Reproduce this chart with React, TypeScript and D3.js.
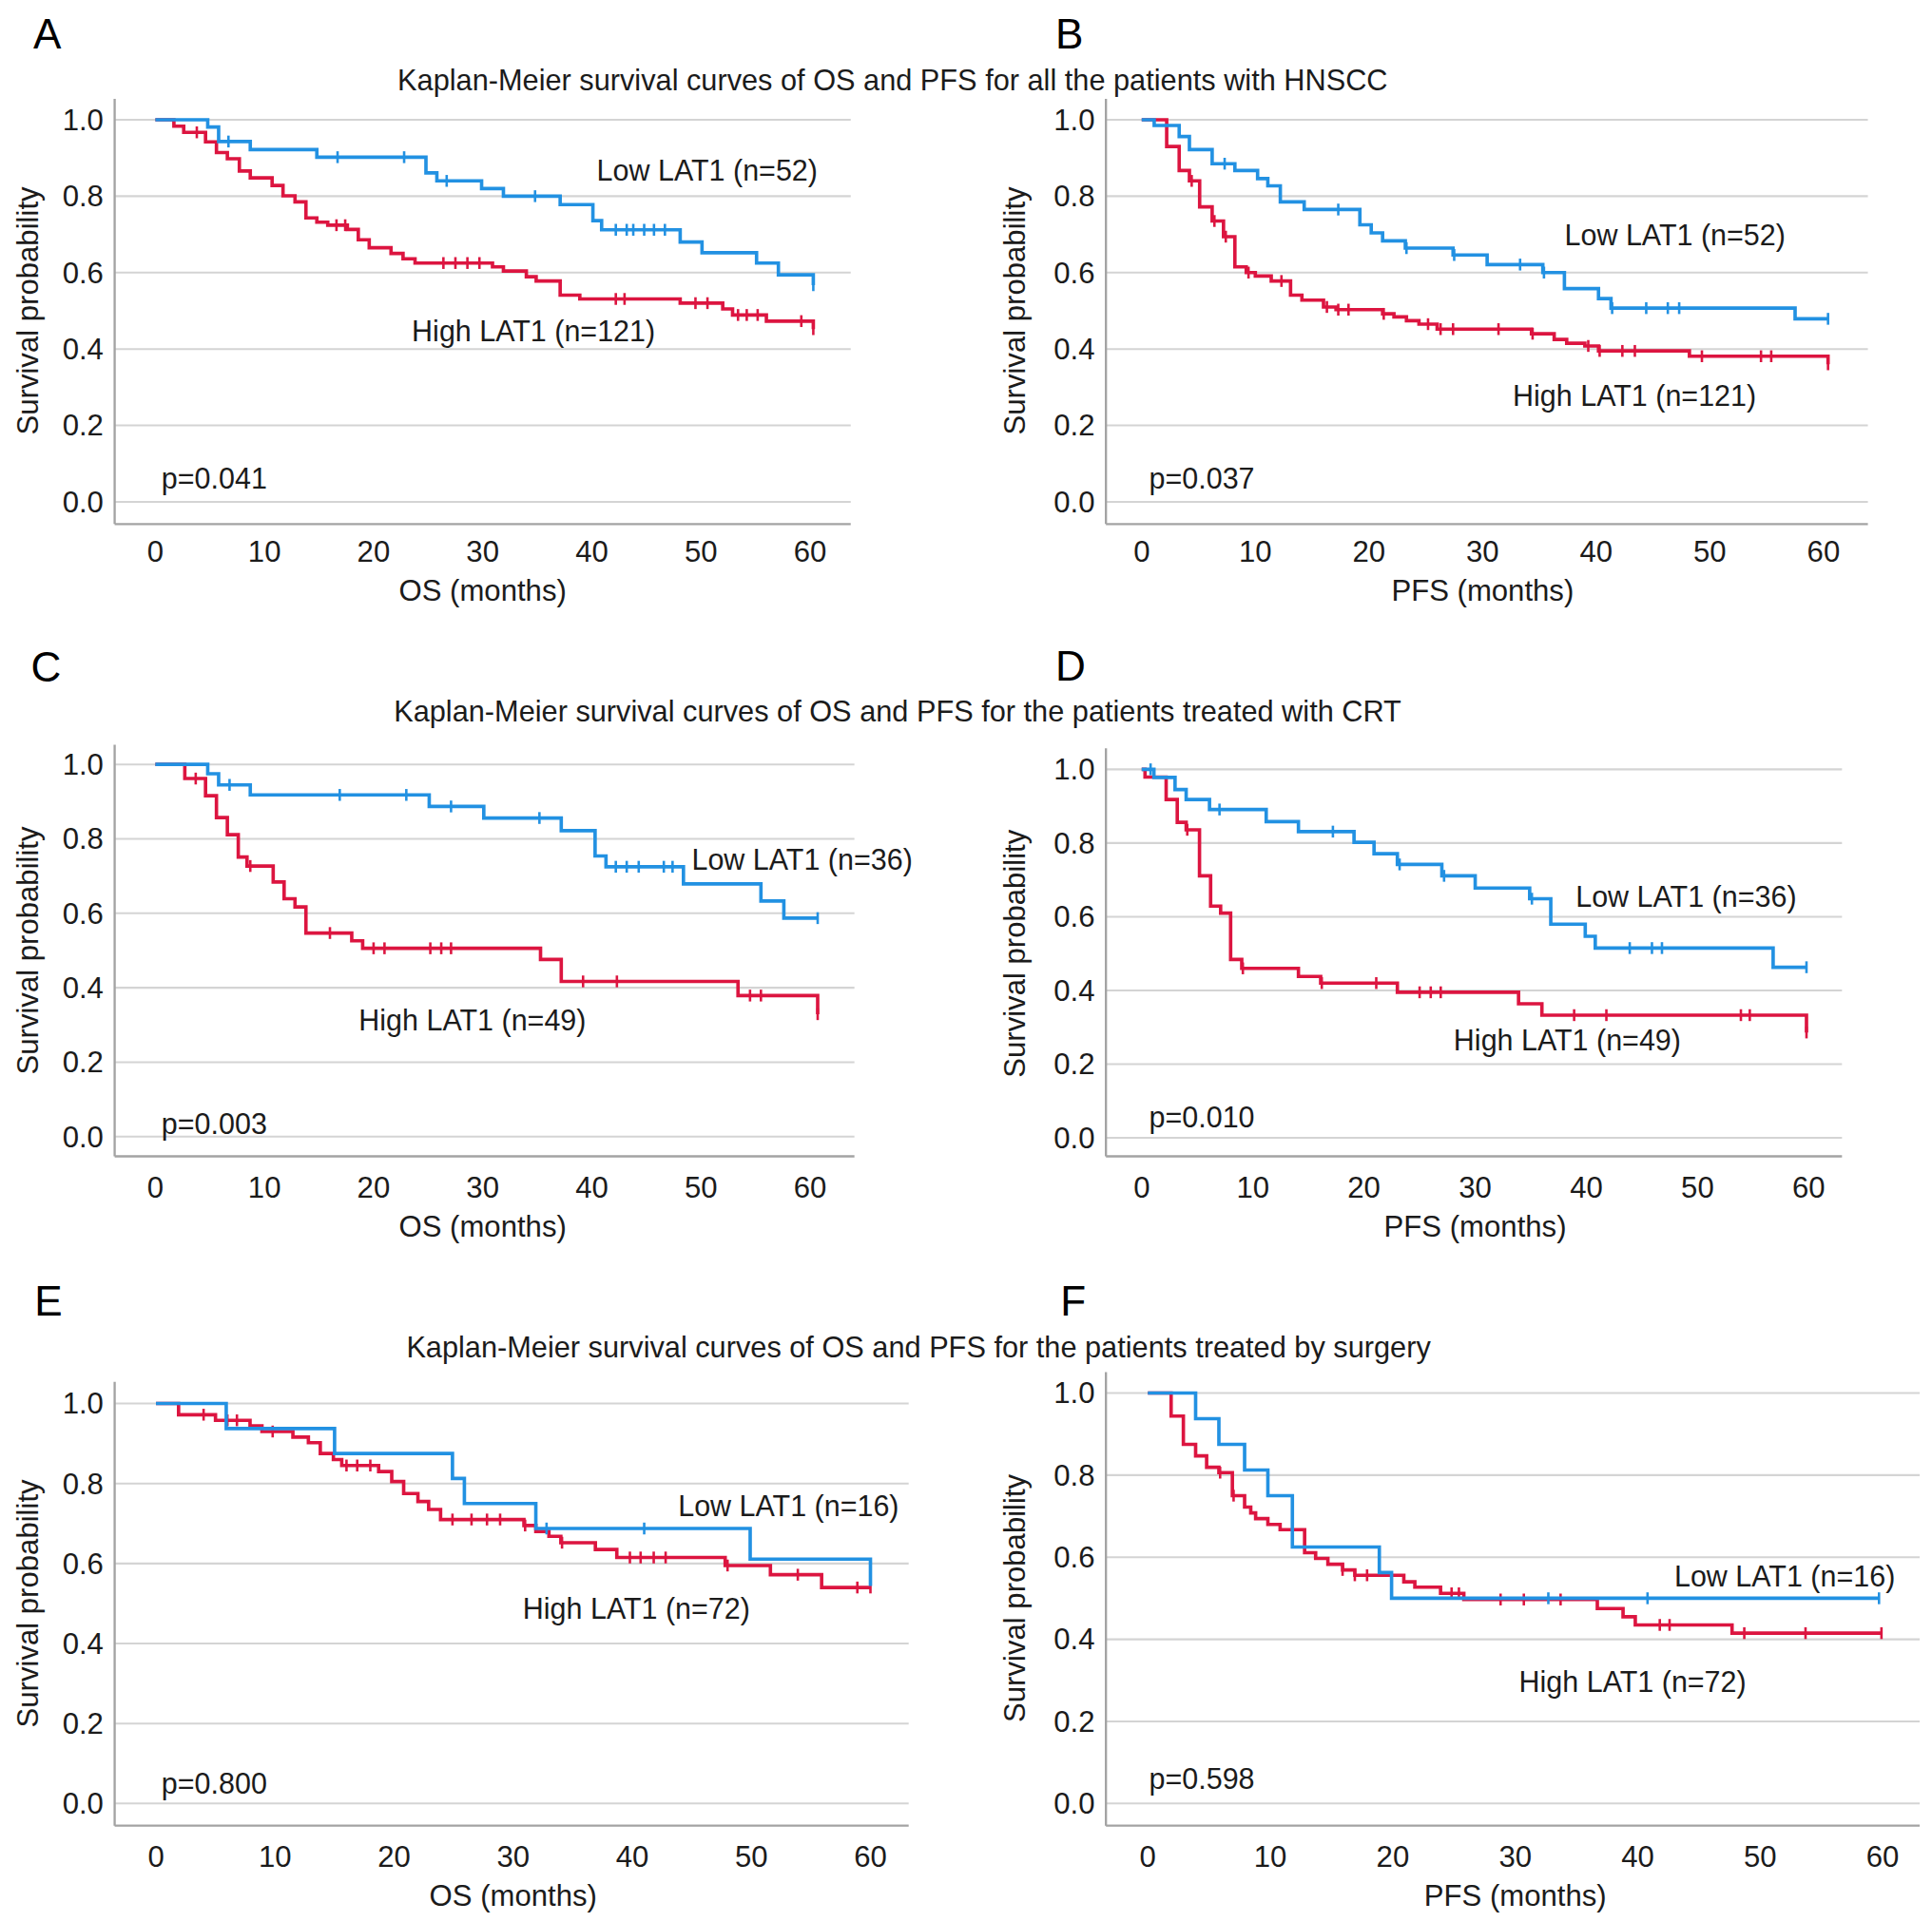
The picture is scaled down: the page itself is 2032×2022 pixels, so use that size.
import React, { useEffect } from 'react';
import * as d3 from 'd3';

type Step = [number, number];

// ---- data: [time (months), survival] steps ----

// A: OS, all patients
const aLow: Step[] = [[0, 1], [4.8, 0.981], [5.8, 0.943], [8.7, 0.922], [14.8, 0.902], [24.8, 0.861], [25.8, 0.84], [29.9, 0.82], [31.9, 0.8], [37.1, 0.778], [40.1, 0.736], [40.9, 0.712], [48.1, 0.68], [50.1, 0.652], [55.1, 0.625], [57.1, 0.594], [60.3, 0.567]];
const aLowCensor = [6.7, 16.7, 22.8, 26.7, 34.8, 42.2, 43.2, 43.8, 44.8, 45.7, 46.7, 60.3];
const aHigh: Step[] = [[0, 1], [1.7, 0.983], [2.6, 0.967], [4.6, 0.942], [5.6, 0.914], [6.6, 0.898], [7.7, 0.866], [8.7, 0.848], [10.7, 0.828], [11.7, 0.801], [12.8, 0.785], [13.8, 0.743], [14.8, 0.732], [15.8, 0.724], [17.6, 0.713], [18.6, 0.686], [19.6, 0.665], [21.6, 0.65], [22.7, 0.636], [23.8, 0.625], [30.9, 0.615], [31.9, 0.604], [34.0, 0.589], [34.9, 0.578], [37.1, 0.541], [38.9, 0.531], [48.1, 0.52], [52.0, 0.505], [52.9, 0.489], [56.0, 0.473], [60.3, 0.452]];
const aHighCensor = [3.8, 16.6, 17.4, 26.4, 27.5, 28.6, 29.7, 42.2, 43.0, 49.5, 50.6, 53.4, 54.2, 55.2, 59.2, 60.3];

// B: PFS, all patients
const bLow: Step[] = [[0, 1], [1.1, 0.985], [3.3, 0.956], [4.2, 0.922], [6.2, 0.885], [8.2, 0.867], [10.2, 0.846], [11.1, 0.827], [12.2, 0.785], [14.3, 0.765], [19.2, 0.725], [20.2, 0.704], [21.2, 0.683], [23.2, 0.664], [27.4, 0.646], [30.4, 0.621], [35.3, 0.6], [37.2, 0.558], [40.2, 0.532], [41.3, 0.507], [57.5, 0.479], [60.4, 0.479]];
const bLowCensor = [7.3, 17.3, 23.3, 27.5, 33.3, 35.4, 41.4, 44.4, 46.3, 47.3, 60.4];
const bHigh: Step[] = [[0, 1], [2.2, 0.93], [3.3, 0.867], [4.2, 0.84], [5.1, 0.772], [6.2, 0.735], [7.2, 0.694], [8.2, 0.615], [9.2, 0.6], [10.0, 0.591], [11.4, 0.578], [13.1, 0.541], [14.1, 0.528], [16.0, 0.51], [17.1, 0.503], [21.2, 0.492], [22.2, 0.484], [23.3, 0.474], [24.4, 0.465], [26.0, 0.452], [34.3, 0.44], [36.3, 0.425], [37.4, 0.415], [39.0, 0.408], [40.2, 0.395], [48.2, 0.381], [60.4, 0.36]];
const bHighCensor = [4.4, 6.4, 7.4, 9.4, 12.3, 16.3, 17.3, 18.2, 21.3, 25.2, 26.3, 27.4, 31.4, 34.4, 39.3, 40.3, 42.3, 43.4, 49.3, 54.5, 55.4, 60.4];

// C: OS, CRT
const cLow: Step[] = [[0, 1], [4.8, 0.975], [5.8, 0.945], [8.7, 0.918], [25.1, 0.887], [30.1, 0.856], [37.2, 0.822], [40.3, 0.754], [41.3, 0.725], [48.4, 0.679], [55.5, 0.633], [57.6, 0.587], [60.7, 0.587]];
const cLowCensor = [6.8, 16.9, 23.0, 27.1, 35.2, 42.2, 43.2, 44.3, 46.6, 47.4, 60.7];
const cHigh: Step[] = [[0, 1], [2.7, 0.962], [4.6, 0.916], [5.6, 0.857], [6.6, 0.811], [7.6, 0.751], [8.4, 0.727], [10.8, 0.684], [11.8, 0.639], [12.8, 0.617], [13.8, 0.547], [18.0, 0.526], [19.0, 0.506], [35.3, 0.476], [37.2, 0.417], [53.4, 0.379], [60.7, 0.329]];
const cHighCensor = [3.7, 8.7, 16.0, 20.0, 21.0, 25.2, 26.2, 27.1, 39.2, 42.3, 54.5, 55.5, 60.7];

// D: PFS, CRT
const dLow: Step[] = [[0, 1], [1.1, 0.978], [3.0, 0.945], [4.0, 0.918], [6.1, 0.891], [11.2, 0.858], [14.1, 0.831], [19.1, 0.802], [20.9, 0.771], [23.0, 0.742], [27.0, 0.711], [30.0, 0.678], [34.9, 0.649], [36.8, 0.58], [39.9, 0.547], [40.8, 0.515], [56.8, 0.463], [59.8, 0.463]];
const dLowCensor = [0.8, 7.0, 17.2, 23.2, 27.2, 35.1, 43.9, 45.9, 46.8, 59.8];
const dHigh: Step[] = [[0, 1], [0.3, 0.979], [2.2, 0.918], [3.2, 0.856], [4.0, 0.836], [5.2, 0.711], [6.2, 0.629], [7.1, 0.61], [8.0, 0.484], [9.0, 0.46], [14.1, 0.438], [16.1, 0.42], [23.0, 0.395], [33.9, 0.364], [36.0, 0.333], [59.8, 0.286]];
const dHighCensor = [4.1, 9.1, 16.2, 21.1, 25.0, 26.0, 26.9, 38.9, 41.8, 53.9, 54.7, 59.8];

// E: OS, surgery
const eLow: Step[] = [[0, 1], [5.9, 0.9375], [15.0, 0.875], [24.9, 0.8125], [25.9, 0.75], [31.9, 0.6875], [49.9, 0.611], [60.0, 0.544]];
const eLowCensor = [32.8, 41.0];
const eHigh: Step[] = [[0, 1], [1.9, 0.972], [5.0, 0.958], [7.9, 0.944], [8.9, 0.93], [11.5, 0.916], [12.8, 0.902], [13.8, 0.875], [14.9, 0.86], [15.6, 0.845], [18.7, 0.83], [19.8, 0.805], [20.8, 0.775], [22.0, 0.755], [22.9, 0.735], [23.9, 0.71], [30.9, 0.695], [31.9, 0.68], [33.0, 0.668], [34.0, 0.652], [36.9, 0.635], [38.7, 0.615], [47.8, 0.595], [51.6, 0.572], [55.9, 0.54], [60.0, 0.54]];
const eHighCensor = [4.0, 6.0, 6.8, 9.8, 16.0, 16.9, 18.0, 24.9, 26.5, 27.8, 28.9, 31.0, 34.1, 39.8, 40.7, 41.8, 42.8, 48.0, 53.9, 58.9, 60.0];

// F: PFS, surgery
const fLow: Step[] = [[0, 1], [3.9, 0.9375], [5.8, 0.875], [7.9, 0.8125], [9.8, 0.75], [11.8, 0.625], [18.9, 0.5625], [19.9, 0.5], [59.7, 0.5]];
const fLowCensor = [32.7, 40.8, 59.7];
const fHigh: Step[] = [[0, 1], [1.9, 0.944], [2.9, 0.875], [3.9, 0.847], [4.8, 0.819], [5.8, 0.806], [6.9, 0.75], [7.9, 0.722], [8.4, 0.708], [8.8, 0.694], [9.8, 0.68], [10.8, 0.667], [12.8, 0.611], [13.7, 0.597], [14.7, 0.583], [15.9, 0.569], [16.9, 0.556], [20.9, 0.54], [21.8, 0.527], [23.9, 0.512], [25.8, 0.497], [36.7, 0.475], [38.8, 0.455], [39.8, 0.435], [47.7, 0.415], [59.9, 0.415]];
const fHighCensor = [5.9, 7.0, 11.8, 15.9, 16.9, 17.9, 24.8, 25.4, 28.8, 30.7, 33.7, 41.8, 42.6, 48.7, 53.7, 59.9];

const xTicks = [0, 10, 20, 30, 40, 50, 60];
const yTicks = [0, 0.2, 0.4, 0.6, 0.8, 1.0];
const letters = ['A', 'B', 'C', 'D', 'E', 'F'];
const xTitles = ['OS (months)', 'PFS (months)', 'OS (months)', 'PFS (months)', 'OS (months)', 'PFS (months)'];
const pValues = ['p=0.041', 'p=0.037', 'p=0.003', 'p=0.010', 'p=0.800', 'p=0.598'];
const lowLabels = ['Low LAT1 (n=52)', 'Low LAT1 (n=52)', 'Low LAT1 (n=36)', 'Low LAT1 (n=36)', 'Low LAT1 (n=16)', 'Low LAT1 (n=16)'];
const highLabels = ['High LAT1 (n=121)', 'High LAT1 (n=121)', 'High LAT1 (n=49)', 'High LAT1 (n=49)', 'High LAT1 (n=72)', 'High LAT1 (n=72)'];
const rowTitles = [
  'Kaplan-Meier survival curves of OS and PFS for all the patients with HNSCC',
  'Kaplan-Meier survival curves of OS and PFS for the patients treated with CRT',
  'Kaplan-Meier survival curves of OS and PFS for the patients treated by surgery',
];

const series = [
  { low: aLow, lowC: aLowCensor, high: aHigh, highC: aHighCensor },
  { low: bLow, lowC: bLowCensor, high: bHigh, highC: bHighCensor },
  { low: cLow, lowC: cLowCensor, high: cHigh, highC: cHighCensor },
  { low: dLow, lowC: dLowCensor, high: dHigh, highC: dHighCensor },
  { low: eLow, lowC: eLowCensor, high: eHigh, highC: eHighCensor },
  { low: fLow, lowC: fLowCensor, high: fHigh, highC: fHighCensor },
];

// ---- layout (viewBox units) ----
const VW = 1567;
const VH = 1559;

const layout = [
  { x0: 126, x60: 657, axL: 93, axR: 690, y1: 97, y0: 407, axT: 80, axB: 425, tickY: 447, xlabY: 479, ylabX: 22.5, letter: [27, 39], low: [484, 138.4], high: [334, 268.7], p: [131, 388] },
  { x0: 926, x60: 1479, axL: 897, axR: 1515, y1: 97, y0: 407, axT: 80, axB: 425, tickY: 447, xlabY: 479, ylabX: 823, letter: [856, 39], low: [1269, 190.5], high: [1227, 321], p: [932, 388] },
  { x0: 126, x60: 657, axL: 93, axR: 693, y1: 620, y0: 922, axT: 604, axB: 938, tickY: 963.5, xlabY: 995, ylabX: 22.5, letter: [25, 553], low: [561, 697.4], high: [291, 827.7], p: [131, 911.4] },
  { x0: 926, x60: 1467, axL: 897, axR: 1494, y1: 624, y0: 923, axT: 607, axB: 938, tickY: 963.5, xlabY: 995, ylabX: 823, letter: [856, 552], low: [1278, 727.7], high: [1179, 844], p: [932, 906] },
  { x0: 126.5, x60: 706, axL: 93, axR: 737, y1: 1138.5, y0: 1463, axT: 1121, axB: 1481, tickY: 1506, xlabY: 1538, ylabX: 22.5, letter: [28, 1067], low: [550, 1221.6], high: [424, 1305], p: [131, 1446.5] },
  { x0: 931, x60: 1527, axL: 897, axR: 1557, y1: 1130, y0: 1463, axT: 1113, axB: 1481, tickY: 1506, xlabY: 1538, ylabX: 823, letter: [860, 1067], low: [1358, 1279], high: [1232, 1364.6], p: [932, 1443] },
];

const titleCenters = [[724, 65], [728, 577], [745, 1093]];

const BLUE = '#2291e2';
const RED = '#dc1540';
const GRID = '#d4d4d4';
const AXIS = '#a3a3a3';
const TEXT = '#1b1b1b';
const FONT = '"Liberation Sans", Arial, Helvetica, sans-serif';

const valueAt = (steps: Step[], t: number) => {
  let v = steps[0][1];
  for (const s of steps) if (s[0] <= t + 1e-9) v = s[1];
  return v;
};

const Panel: React.FC<{ i: number }> = ({ i }) => {
  const L = layout[i];
  const S = series[i];
  const x = d3.scaleLinear().domain([0, 60]).range([L.x0, L.x60]);
  const y = d3.scaleLinear().domain([0, 1]).range([L.y0, L.y1]);
  const line = d3.line<Step>().x(d => x(d[0])).y(d => y(d[1])).curve(d3.curveStepAfter);
  const tick = 4.8;

  const curve = (steps: Step[], censor: number[], color: string) => (
    <g>
      <path d={line(steps) || ''} fill="none" stroke={color} strokeWidth={2.8} strokeLinejoin="miter" />
      {censor.map((t, k) => {
        const cx = x(t);
        const cy = y(valueAt(steps, t));
        return <line key={k} x1={cx} x2={cx} y1={cy - tick} y2={cy + tick} stroke={color} strokeWidth={2} />;
      })}
    </g>
  );

  const yMid = (L.y0 + L.y1) / 2;

  return (
    <g>
      {yTicks.map(v => (
        <line key={v} x1={L.axL} x2={L.axR} y1={y(v)} y2={y(v)} stroke={GRID} strokeWidth={1.6} />
      ))}
      <line x1={L.axL} x2={L.axL} y1={L.axT} y2={L.axB} stroke={AXIS} strokeWidth={1.8} />
      <line x1={L.axL} x2={L.axR} y1={L.axB} y2={L.axB} stroke={AXIS} strokeWidth={1.8} />

      {yTicks.map(v => (
        <text key={v} x={L.axL - 9} y={y(v)} dy="0.35em" textAnchor="end" fontSize={24} fill={TEXT}>
          {v.toFixed(1)}
        </text>
      ))}
      {xTicks.map(v => (
        <text key={v} x={x(v)} y={L.tickY} dy="0.35em" textAnchor="middle" fontSize={24} fill={TEXT}>
          {v}
        </text>
      ))}
      <text x={(L.x0 + L.x60) / 2} y={L.xlabY} dy="0.35em" textAnchor="middle" fontSize={24} fill={TEXT}>
        {xTitles[i]}
      </text>
      <text
        transform={`translate(${L.ylabX},${yMid}) rotate(-90)`}
        dy="0.35em"
        textAnchor="middle"
        fontSize={24}
        fill={TEXT}
      >
        Survival probability
      </text>

      {curve(S.high, S.highC, RED)}
      {curve(S.low, S.lowC, BLUE)}

      <text x={L.low[0]} y={L.low[1]} dy="0.35em" fontSize={23.5} fill={TEXT}>{lowLabels[i]}</text>
      <text x={L.high[0]} y={L.high[1]} dy="0.35em" fontSize={23.5} fill={TEXT}>{highLabels[i]}</text>
      <text x={L.p[0]} y={L.p[1]} dy="0.35em" fontSize={23.5} fill={TEXT}>{pValues[i]}</text>

      <text x={L.letter[0]} y={L.letter[1]} fontSize={34} fill="#000">{letters[i]}</text>
    </g>
  );
};

const App: React.FC = () => {
  useEffect(() => {
    document.body.style.margin = '0';
  }, []);

  return (
    <div style={{ position: 'absolute', left: 0, top: 0, background: '#fff' }}>
      <svg width={2032} height={2022} viewBox={`0 0 ${VW} ${VH}`} style={{ display: 'block', fontFamily: FONT }}>
        <rect x={0} y={0} width={VW} height={VH} fill="#fff" />
        {rowTitles.map((t, k) => (
          <text key={k} x={titleCenters[k][0]} y={titleCenters[k][1]} dy="0.35em" textAnchor="middle" fontSize={23.7} fill={TEXT}>
            {t}
          </text>
        ))}
        {layout.map((_, i) => <Panel key={i} i={i} />)}
      </svg>
    </div>
  );
};

export default App;
